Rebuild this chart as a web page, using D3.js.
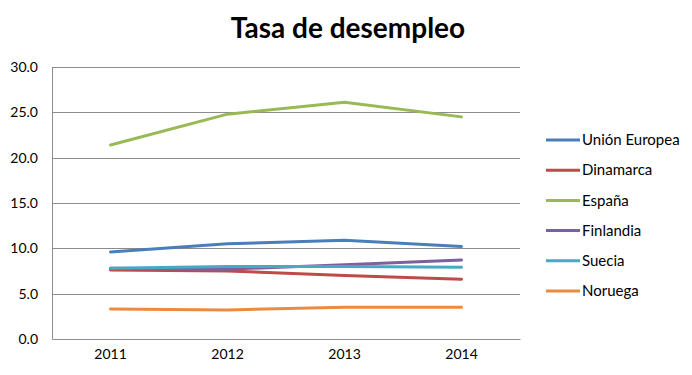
<!DOCTYPE html>
<html>
<head>
<meta charset="utf-8">
<script src="https://cdn.jsdelivr.net/npm/d3@7"></script>
<style>
  body { margin: 0; background: #fff; }
  svg { display: block; font-family: Lato, "Open Sans", sans-serif; }
</style>
</head>
<body>
<svg id="chart" width="692" height="375"></svg>
<script>
// data
const years = ["2011", "2012", "2013", "2014"];
const seriesNames = ["Unión Europea", "Dinamarca", "España", "Finlandia", "Suecia", "Noruega"];
const ueValues = [9.6, 10.5, 10.9, 10.2];
const dinamarcaValues = [7.6, 7.5, 7.0, 6.6];
const espanaValues = [21.4, 24.8, 26.1, 24.5];
const finlandiaValues = [7.8, 7.7, 8.2, 8.7];
const sueciaValues = [7.8, 8.0, 8.0, 7.9];
const noruegaValues = [3.3, 3.2, 3.5, 3.5];
const yTicks = [0, 5, 10, 15, 20, 25, 30];
const colors = ["#4A7EBB", "#BE4B48", "#98B954", "#7D60A0", "#46AAC5", "#EC8A40"];

const allValues = [ueValues, dinamarcaValues, espanaValues, finlandiaValues, sueciaValues, noruegaValues];
const series = seriesNames.map((name, i) => ({ name, values: allValues[i], color: colors[i] }));

const svg = d3.select("#chart");
const margin = { top: 67, right: 172, bottom: 36, left: 52 };
const width = 692 - margin.left - margin.right,
    height = 375 - margin.top - margin.bottom;

const x = d3.scaleBand().domain(years).range([0, width]);
const y = d3.scaleLinear().domain([0, 30]).range([height, 0]);

svg.append("text")
    .attr("x", 348)
    .attr("y", 38)
    .attr("text-anchor", "middle")
    .style("font-size", "28px")
    .style("font-weight", "bold")
    .text("Tasa de desempleo");

const g = svg.append("g")
    .attr("transform", "translate(" + margin.left + "," + margin.top + ")");

// gridlines
g.append("g")
    .selectAll("line")
    .data(yTicks.slice(1))
    .enter()
    .append("line")
    .attr("x1", 0)
    .attr("x2", width)
    .attr("y1", d => Math.round(y(d)) + 0.5)
    .attr("y2", d => Math.round(y(d)) + 0.5)
    .attr("stroke", "#8c8c8c")
    .attr("stroke-width", 1);

// axes
const yAxis = g.append("g")
    .call(d3.axisLeft(y).tickValues(yTicks).tickFormat(d3.format(".1f")).tickSize(0).tickPadding(14));
yAxis.select(".domain").attr("stroke", "#8c8c8c");
yAxis.selectAll("text").style("font-size", "14px").attr("fill", "#000")
    .style("font-family", "Lato, sans-serif");

const xAxis = g.append("g")
    .attr("transform", "translate(0," + height + ")")
    .call(d3.axisBottom(x).tickSize(0).tickPadding(10));
xAxis.select(".domain").attr("stroke", "#8c8c8c");
xAxis.selectAll("text").style("font-size", "14px").attr("fill", "#000")
    .style("font-family", "Lato, sans-serif");

const line = d3.line()
    .x((d, i) => x(years[i]) + x.bandwidth() / 2)
    .y(d => y(d));

g.selectAll("path.series")
    .data(series)
    .enter()
    .append("path")
    .attr("class", "series")
    .attr("fill", "none")
    .attr("stroke", d => d.color)
    .attr("stroke-width", 3)
    .attr("stroke-linecap", "round")
    .attr("stroke-linejoin", "round")
    .attr("d", d => line(d.values));

// legend
const legend = svg.append("g")
    .attr("transform", "translate(546,140)");
const item = legend.selectAll("g")
    .data(series)
    .enter()
    .append("g")
    .attr("transform", (d, i) => "translate(0," + i * 30.2 + ")");
item.append("line")
    .attr("x1", 0).attr("x2", 34)
    .attr("stroke", d => d.color)
    .attr("stroke-width", 3);
item.append("text")
    .attr("x", 36)
    .attr("dy", "0.35em")
    .style("font-size", "15px")
    .text(d => d.name);
</script>
</body>
</html>
